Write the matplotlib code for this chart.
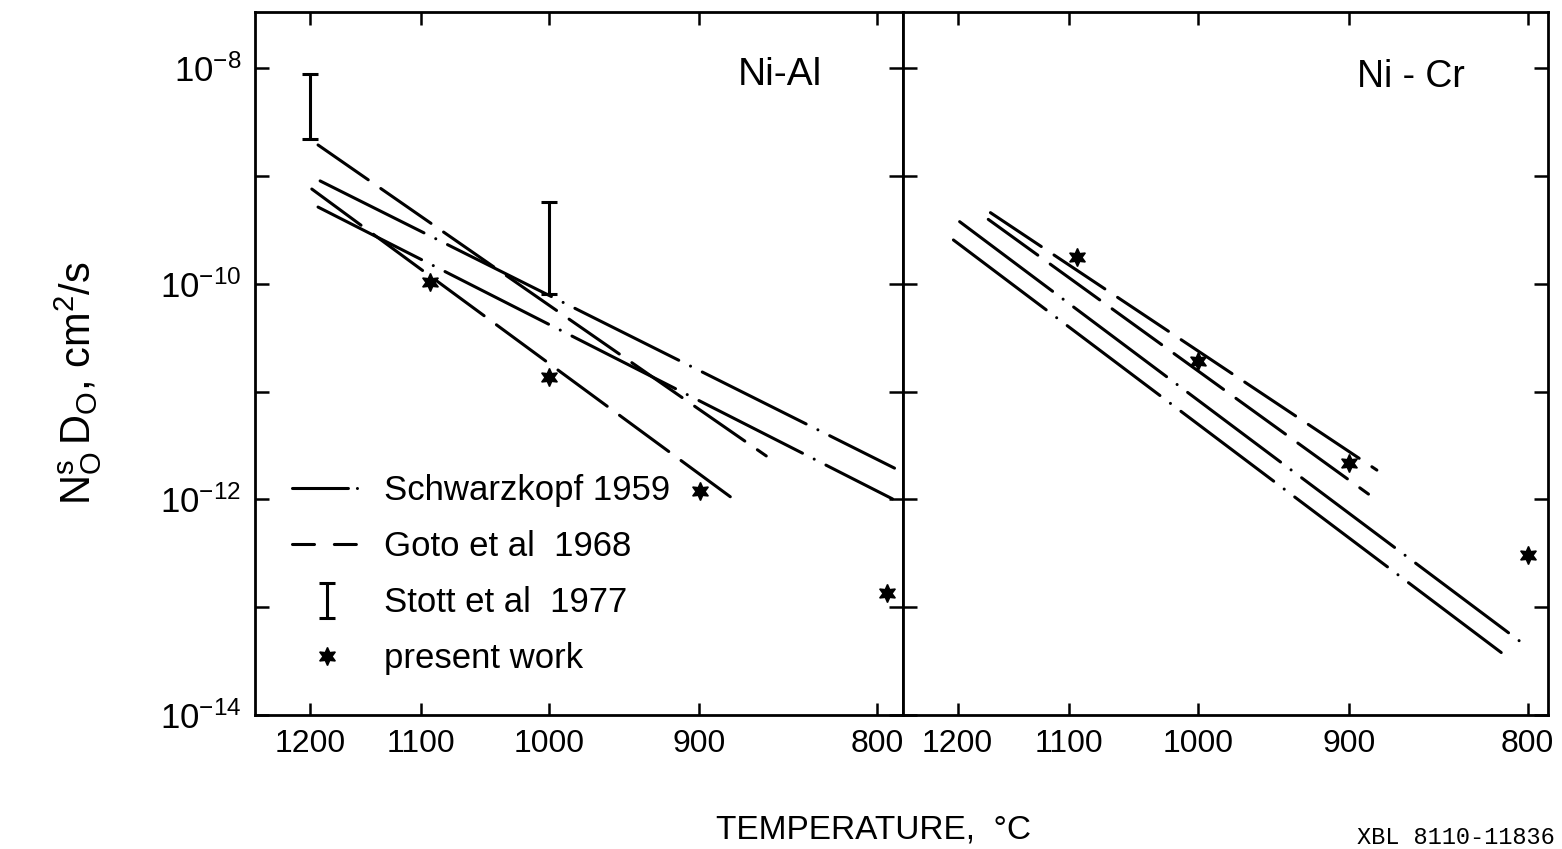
import numpy as np
import matplotlib
matplotlib.use('Agg')
import matplotlib.pyplot as plt
from matplotlib import font_manager
from matplotlib.lines import Line2D
from matplotlib.ticker import FixedLocator, FuncFormatter, NullLocator

# Oxygen permeability N_O^s D_O (cm^2/s) vs temperature (deg C), Arrhenius axis

temp_ticks = [1200, 1100, 1000, 900, 800]

# Ni-Al
nial_goto_T = [[1192, 860], [1198, 876]]
nial_goto_D = [[1.94e-9, 2.53e-12], [7.57e-10, 9.27e-13]]
nial_schw_T = [[1190, 791], [1192, 792]]
nial_schw_D = [[9.0e-10, 1.95e-12], [5.15e-10, 1.01e-12]]
nial_stott_T = [1200, 1000]
nial_stott_lo = [2.20e-9, 8.0e-11]
nial_stott_hi = [8.8e-9, 5.7e-10]
nial_star_T = [1092, 1000, 899, 795]
nial_star_D = [1.04e-10, 1.36e-11, 1.20e-12, 1.36e-13]

# Ni-Cr
nicr_goto_T = [[1169, 883], [1171, 888]]
nicr_goto_D = [[4.57e-10, 1.87e-12], [3.96e-10, 1.12e-12]]
nicr_schw_T = [[1198, 803], [1204, 812]]
nicr_schw_D = [[3.77e-10, 4.69e-14], [2.55e-10, 3.61e-14]]
nicr_star_T = [1093, 1000, 900, 800]
nicr_star_D = [1.78e-10, 1.94e-11, 2.16e-12, 3.05e-13]

installed = {f.name for f in font_manager.fontManager.ttflist}
narrow = 'Liberation Sans Narrow' if 'Liberation Sans Narrow' in installed else 'Liberation Sans'
plt.rcParams['font.family'] = ['Liberation Sans', 'DejaVu Sans']
plt.rcParams['mathtext.fontset'] = 'custom'
plt.rcParams['mathtext.rm'] = 'Liberation Sans'
plt.rcParams['mathtext.it'] = 'Liberation Sans'

LW = 2.2
goto_ls = (0, (20, 5))
schw_ls = (0, (38, 4.3, 0.01, 4.3))
star = (6, 1, 0)


def inv_t(t_c):
    return 1e4 / (np.asarray(t_c, dtype=float) + 273.15)


def decade_label(v, pos):
    e = int(round(np.log10(v)))
    return r'$\mathregular{10^{%d}}$' % e if e % 2 == 0 else ''


def style_axis(ax, xlim):
    ax.set_yscale('log')
    ax.set_xlim(*xlim)
    ax.set_ylim(1e-14, 10 ** -7.476)
    ax.set_xticks(inv_t(temp_ticks))
    ax.set_xticklabels([str(t) for t in temp_ticks], fontfamily=narrow, fontsize=23)
    ax.xaxis.set_minor_locator(NullLocator())
    ax.yaxis.set_major_locator(FixedLocator(10.0 ** np.arange(-14, -7)))
    ax.yaxis.set_minor_locator(NullLocator())
    ax.tick_params(which='major', direction='in', top=True, right=True, width=1.8)
    ax.tick_params(axis='x', length=9, pad=10)
    ax.tick_params(axis='y', length=10, pad=10)
    for s in ax.spines.values():
        s.set_linewidth(2.0)


def draw_lines(ax, Ts, Ds, ls):
    for T, D in zip(Ts, Ds):
        ax.plot(inv_t(T), D, color='black', lw=LW, linestyle=ls, dash_capstyle='round')


fig = plt.figure(figsize=(15.62, 8.49), dpi=100)
W, H = 1562, 849
bottom = 1 - 715 / H
height = 703.3 / H
ax1 = fig.add_axes([255 / W, bottom, 648 / W, height])
ax2 = fig.add_axes([903 / W, bottom, 645 / W, height], sharey=ax1)

style_axis(ax1, (6.544, 9.435))
style_axis(ax2, (6.546, 9.409))
ax1.yaxis.set_major_formatter(FuncFormatter(decade_label))
ax1.tick_params(axis='y', labelsize=25)
ax2.tick_params(axis='y', labelleft=False)

# Ni-Al panel
draw_lines(ax1, nial_goto_T, nial_goto_D, goto_ls)
draw_lines(ax1, nial_schw_T, nial_schw_D, schw_ls)
stott = ax1.errorbar(inv_t(nial_stott_T), nial_stott_lo,
                     yerr=[np.zeros(len(nial_stott_lo)), np.subtract(nial_stott_hi, nial_stott_lo)],
                     fmt='none', ecolor='black', elinewidth=LW, capsize=5.5, capthick=LW)
ax1.plot(inv_t(nial_star_T), nial_star_D, linestyle='none', marker=star,
         markersize=13, color='black')
ax1.text(0.81, 0.91, 'Ni-Al', transform=ax1.transAxes, fontsize=28,
         ha='center', va='center')

# Ni-Cr panel
draw_lines(ax2, nicr_goto_T, nicr_goto_D, goto_ls)
draw_lines(ax2, nicr_schw_T, nicr_schw_D, schw_ls)
ax2.plot(inv_t(nicr_star_T), nicr_star_D, linestyle='none', marker=star,
         markersize=13, color='black')
ax2.text(0.788, 0.907, 'Ni - Cr', transform=ax2.transAxes, fontsize=27,
         ha='center', va='center')

# legend
h_schw = Line2D([], [], color='black', lw=LW, linestyle=(0, (18.3, 2.95, 0.01, 10)),
                dash_capstyle='round')
h_goto = Line2D([], [], color='black', lw=LW, linestyle=(0, (7.2, 6.5)),
                dash_capstyle='round')
h_star = Line2D([], [], color='black', linestyle='none', marker=star, markersize=13)
ax1.legend([h_schw, h_goto, stott, h_star],
           ['Schwarzkopf 1959', 'Goto et al  1968', 'Stott et al  1977', 'present work'],
           loc='upper left', bbox_to_anchor=(0.057, 0.342), frameon=False,
           fontsize=25, handlelength=2.0, handletextpad=0.66, labelspacing=0.66,
           borderpad=0, borderaxespad=0)

fig.text(78 / W, 1 - 383 / H, r'$\mathregular{N_O^s\,D_O}$, cm$\mathregular{^2}$/s',
         rotation=90, fontsize=30, ha='center', va='center')
fig.text(873 / W, 1 - 830 / H, 'TEMPERATURE,  °C', fontfamily=narrow, fontsize=24,
         ha='center', va='center')
fig.text(1555 / W, 1 - 838 / H, 'XBL 8110-11836', fontfamily='Liberation Mono',
         fontsize=17, ha='right', va='center')

fig.savefig('out.png', dpi=100)
